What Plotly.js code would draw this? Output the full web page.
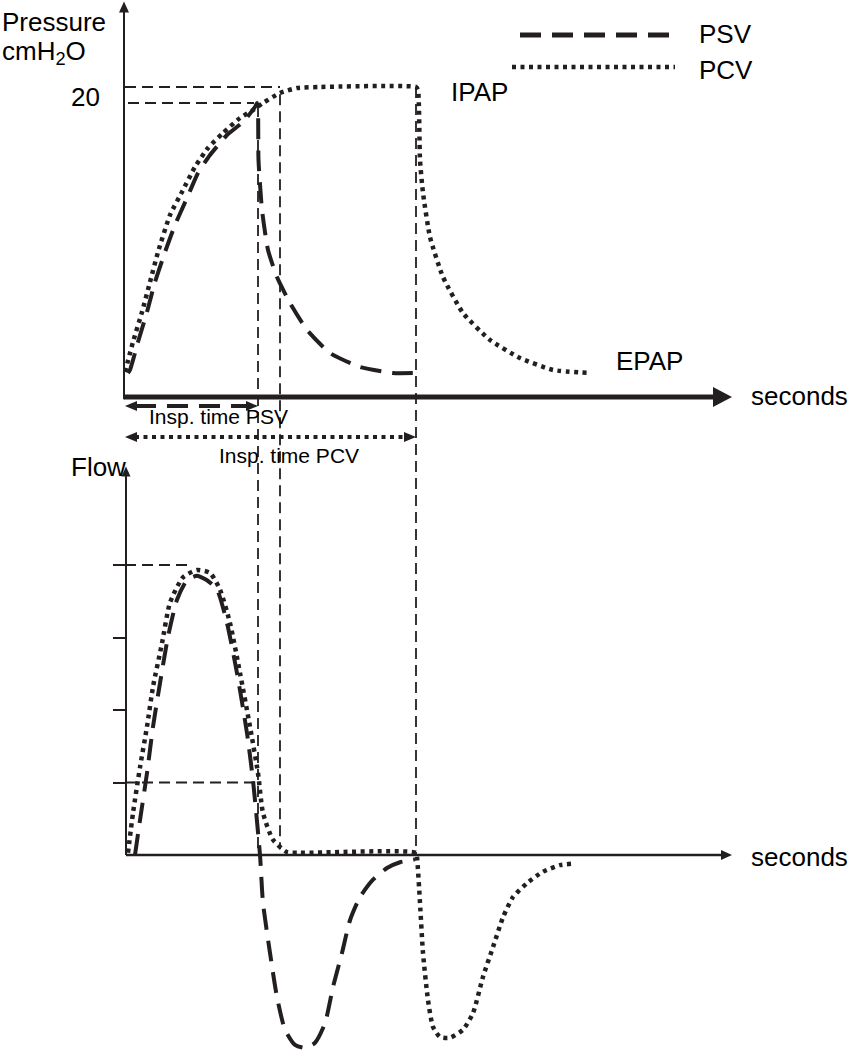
<!DOCTYPE html>
<html>
<head>
<meta charset="utf-8">
<script src="https://cdn.plot.ly/plotly-3.0.1.min.js"></script>
<style>html,body{margin:0;padding:0;background:#fff;}#chart{width:851px;height:1051px;}</style>
</head>
<body>
<div id="chart"></div>
<script>
// ---------------- data (schematic) ----------------
// time in seconds (arbitrary schematic units), pressure in cmH2O, flow in arbitrary units
const psvPressureT = [0.03,0.05,0.13,0.22,0.30,0.40,0.50,0.62,0.73,0.85,1.02,1.18,1.30,1.32,1.33,1.335,1.37,1.43,1.52,1.65,1.82,2.05,2.35,2.68,2.90];
const psvPressure  = [1.63,1.84,3.74,5.78,7.82,9.86,11.70,13.54,15.24,16.46,17.82,18.71,19.73,20.0,19.52,16.12,12.72,10.0,8.16,6.39,4.56,2.99,2.04,1.63,1.63];

const pcvPressureT = [0.00,0.08,0.17,0.25,0.33,0.45,0.57,0.70,0.83,0.98,1.15,1.28,1.38,1.55,1.72,1.95,2.91,2.93,2.95,2.98,3.05,3.18,3.38,3.65,3.95,4.28,4.65];
const pcvPressure  = [1.70,3.74,5.78,7.82,9.86,12.38,13.95,15.65,16.94,17.96,18.98,19.52,20.0,20.68,21.02,21.09,21.09,20.88,16.12,13.88,10.88,8.16,5.71,3.88,2.65,1.84,1.63];

const psvFlowT = [0.10,0.15,0.22,0.28,0.35,0.43,0.52,0.62,0.72,0.82,0.92,1.02,1.12,1.22,1.28,1.35,1.38,1.45,1.52,1.60,1.70,1.80,1.90,2.00,2.08,2.17,2.25,2.35,2.48,2.62,2.75,2.90];
const psvFlow  = [0,0.48,1.13,1.77,2.37,3.01,3.52,3.79,3.85,3.79,3.66,3.20,2.51,1.68,1.03,0,-0.66,-1.35,-1.96,-2.41,-2.62,-2.66,-2.59,-2.32,-1.82,-1.35,-0.90,-0.58,-0.34,-0.18,-0.10,-0.06];

const pcvFlowT = [0.03,0.08,0.15,0.22,0.28,0.37,0.45,0.58,0.72,0.85,0.95,1.05,1.15,1.25,1.33,1.38,1.48,1.62,1.75,2.91,2.92,2.95,2.98,3.03,3.08,3.15,3.25,3.38,3.48,3.58,3.68,3.78,3.88,4.02,4.18,4.35,4.48];
const pcvFlow  = [0.03,0.58,1.21,1.77,2.32,2.92,3.48,3.83,3.93,3.89,3.66,3.20,2.51,1.77,1.13,0.58,0.21,0.04,0.03,0.03,-0.03,-0.66,-1.35,-2.0,-2.37,-2.51,-2.52,-2.41,-2.18,-1.68,-1.27,-0.86,-0.58,-0.39,-0.23,-0.14,-0.12];

const pressureLabelVal = 20;
const pressureLabelText = '20';
const flowTickVals = [1,2,3,4];

// landmark values
const psvInspEnd = 1.33;   // s
const pcvRiseEnd = 1.55;   // s
const pcvInspEnd = 2.91;   // s
const psvPeakPressure = 20;     // cmH2O
const ipapPressure = 21.09;     // cmH2O
const peakFlow = 4;
const cycleFlow = 1;

const seriesNames = ['PSV','PCV'];

// ---------------- geometry (page mapping) ----------------
const W = 851, H = 1051;
const X0 = 125, PX_PER_T = 100;
const P0 = 397, PX_PER_P = 14.7;
const F0 = 855, PX_PER_F = 72.5;
const xRange = [(0 - X0)/PX_PER_T, (W - X0)/PX_PER_T];
const pRange = [(P0 - H)/PX_PER_P, P0/PX_PER_P];
const fRange = [(F0 - H)/PX_PER_F, F0/PX_PER_F];
const pFromF = f => (P0 - (F0 - f*PX_PER_F))/PX_PER_P;
const px = x => x / W;          // page px -> paper x
const py = y => 1 - y / H;      // page px -> paper y

const INK = '#231f20';
const FONT = 'Liberation Sans, Arial, Helvetica, sans-serif';
const psvDash = '21px,11px';
const pcvDot = '4px,4.5px';
const refDash = '11px,6px';

const tAxisTip = 6.07, pAxisTip = 26.9, fAxisTip = 5.36;

const traces = [
  {x: psvPressureT, y: psvPressure, xaxis:'x', yaxis:'y', mode:'lines', name:seriesNames[0],
   line:{color:INK, width:4, dash:psvDash, shape:'spline', smoothing:0.5}, hoverinfo:'skip', showlegend:false},
  {x: pcvPressureT, y: pcvPressure, xaxis:'x', yaxis:'y', mode:'lines', name:seriesNames[1],
   line:{color:INK, width:4.5, dash:pcvDot, shape:'spline', smoothing:0.5}, hoverinfo:'skip', showlegend:false},
  {x: psvFlowT, y: psvFlow, xaxis:'x', yaxis:'y2', mode:'lines', name:seriesNames[0],
   line:{color:INK, width:4, dash:psvDash, shape:'spline', smoothing:0.6}, hoverinfo:'skip', showlegend:false},
  {x: pcvFlowT, y: pcvFlow, xaxis:'x', yaxis:'y2', mode:'lines', name:seriesNames[1],
   line:{color:INK, width:4.5, dash:pcvDot, shape:'spline', smoothing:0.6}, hoverinfo:'skip', showlegend:false}
];

function line(x0,y0,x1,y1,yref,w,dash,xref){
  return {type:'line', xref:xref||'x', yref:yref, x0:x0, y0:y0, x1:x1, y1:y1,
          line:{color:INK, width:w, dash:dash||'solid'}, layer:'above'};
}
function head(xa, ya, yref, path){
  return {type:'path', xref:'x', yref:yref, xsizemode:'pixel', ysizemode:'pixel',
          xanchor:xa, yanchor:ya, path:path, fillcolor:INK, line:{width:0, color:INK}, layer:'above'};
}

const shapes = [
  // pressure panel axes
  line(-0.01, 0, tAxisTip-0.12, 0, 'y', 5),
  head(tAxisTip, 0, 'y', 'M0,0 L-19,10 L-19,-10 Z'),
  line(-0.01, -0.15, -0.01, pAxisTip-0.5, 'y', 2),
  head(-0.01, pAxisTip, 'y', 'M0,0 L-5,-11 L5,-11 Z'),
  // flow panel axes
  line(0.01, 0, tAxisTip-0.08, 0, 'y2', 2.5),
  head(tAxisTip, 0, 'y2', 'M0,0 L-11,5 L-11,-5 Z'),
  line(0.01, 0, 0.01, fAxisTip-0.1, 'y2', 2),
  head(0.01, fAxisTip, 'y2', 'M0,0 L-4.5,-10 L4.5,-10 Z'),
  // reference lines, pressure panel
  line(0.0, ipapPressure, pcvRiseEnd, ipapPressure, 'y', 1.8, refDash),
  line(0.03, psvPeakPressure, psvInspEnd-0.04, psvPeakPressure, 'y', 1.8, refDash),
  line(psvInspEnd, psvPeakPressure-0.2, psvInspEnd, pFromF(0), 'y', 1.8, refDash),
  line(pcvRiseEnd, ipapPressure-0.5, pcvRiseEnd, pFromF(0.08), 'y', 1.8, refDash),
  line(pcvInspEnd, ipapPressure, pcvInspEnd, pFromF(0), 'y', 1.8, refDash),
  // reference lines, flow panel
  line(0.0, peakFlow, 0.68, peakFlow, 'y2', 1.8, refDash),
  line(0.0, cycleFlow, psvInspEnd-0.01, cycleFlow, 'y2', 1.8, refDash),
  // inspiratory-time arrows
  line(0.1, -0.61, psvInspEnd-0.1, -0.61, 'y', 4, psvDash),
  head(0, -0.61, 'y', 'M0,0 L12,5 L12,-5 Z'),
  head(psvInspEnd, -0.61, 'y', 'M0,0 L-12,5 L-12,-5 Z'),
  line(0.1, -2.72, pcvInspEnd-0.1, -2.72, 'y', 4, pcvDot),
  head(0, -2.72, 'y', 'M0,0 L12,5 L12,-5 Z'),
  head(pcvInspEnd, -2.72, 'y', 'M0,0 L-12,5 L-12,-5 Z'),
  // legend samples
  line(px(520), py(35), px(675), py(35), 'paper', 5, psvDash, 'paper'),
  line(px(512), py(67), px(675), py(67), 'paper', 4.5, pcvDot, 'paper')
];

function txt(text, x, y, size, xanchor){
  return {text:text, xref:'paper', yref:'paper', x:px(x), y:py(y), xanchor:xanchor||'left', yanchor:'middle',
          showarrow:false, font:{family:FONT, size:size, color:'#000'}, borderpad:0};
}

const annotations = [
  txt('Pressure', 1, 22, 26),
  txt('cmH<sub>2</sub>O', 1, 52, 26),
  // "20" label placed on the pressure scale
  {text:pressureLabelText, xref:'x', yref:'y', x:-0.24, y:pressureLabelVal, yshift:6, xanchor:'right', yanchor:'middle',
   showarrow:false, font:{family:FONT, size:26, color:'#000'}, borderpad:0},
  txt('IPAP', 450, 92, 26),
  txt('EPAP', 615, 361, 26),
  txt('seconds', 750, 396, 26),
  txt('seconds', 750, 857, 26),
  txt('Flow', 70, 467, 26),
  txt('Insp. time PSV', 148, 416, 21),
  txt('Insp. time PCV', 218, 455, 21),
  txt(seriesNames[0], 698, 34, 26),
  txt(seriesNames[1], 698, 70, 26)
];

const layout = {
  width: W, height: H, autosize:false,
  margin:{l:0, r:0, t:0, b:0, pad:0},
  paper_bgcolor:'#fff', plot_bgcolor:'#fff',
  showlegend:false,
  font:{family:FONT, color:'#000'},
  xaxis:{range:xRange, visible:false, fixedrange:true},
  yaxis:{range:pRange, visible:false, fixedrange:true},
  yaxis2:{range:fRange, overlaying:'y', anchor:'free', position:(X0+1)/W, side:'left',
          showgrid:false, zeroline:false, showline:false, ticks:'outside', ticklen:13, tickwidth:2, tickcolor:INK,
          tickvals:flowTickVals, showticklabels:false, fixedrange:true},
  shapes: shapes,
  annotations: annotations
};

Plotly.newPlot('chart', traces, layout, {displayModeBar:false, staticPlot:true});
</script>
</body>
</html>
